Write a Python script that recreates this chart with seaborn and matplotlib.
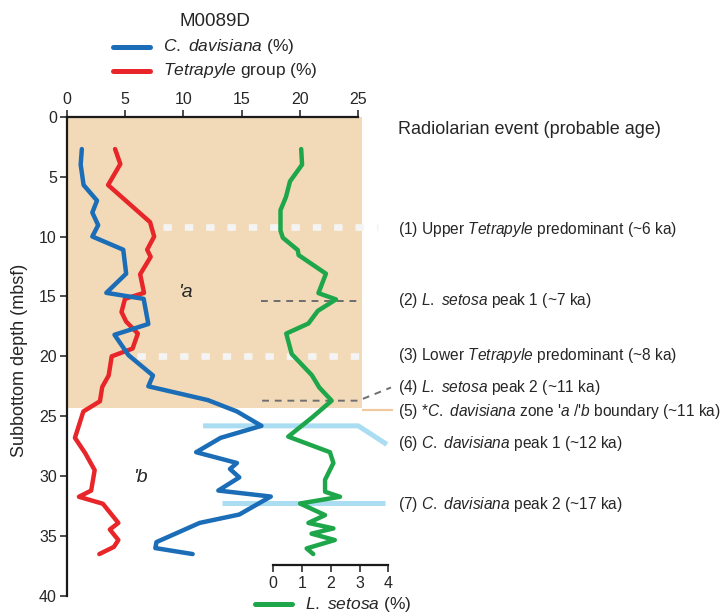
import matplotlib
matplotlib.use("Agg")
import matplotlib.pyplot as plt
from matplotlib.lines import Line2D
from matplotlib.patches import Rectangle
import pandas as pd
import seaborn as sns

# ---- data: core M0089D radiolarian counts ----
davis_depth = [2.7, 4.0, 5.7, 7.0, 8.0, 9.05, 10.0, 11.1, 13.1, 14.7, 15.2, 17.3, 18.2,
               19.9, 21.6, 22.5, 23.65, 24.6, 25.8, 26.8, 28.0, 28.9, 29.4, 30.1, 31.2,
               31.7, 33.2, 33.9, 35.5, 36.0, 36.5]
davis_pct = [1.3, 1.2, 1.45, 2.6, 2.2, 2.7, 2.2, 4.85, 5.1, 3.4, 6.6, 7.0, 4.1,
             5.3, 7.4, 7.0, 12.1, 14.6, 16.7, 13.2, 11.1, 14.6, 14.0, 14.8, 13.0,
             17.5, 14.8, 11.4, 7.7, 7.6, 10.8]

tetra_depth = [2.7, 3.95, 5.7, 8.8, 10.0, 11.1, 11.7, 13.15, 14.7, 15.2, 16.3, 17.1, 18.1,
               19.35, 20.0, 21.6, 22.55, 23.75, 24.6, 26.8, 28.1, 29.5, 31.2, 31.72, 32.3,
               33.9, 34.45, 35.33, 35.9, 36.5]
tetra_pct = [4.15, 4.6, 3.55, 7.15, 7.5, 6.9, 7.2, 6.3, 6.63, 5.0, 4.7, 5.1, 6.1,
             5.65, 3.86, 3.6, 3.05, 2.85, 1.43, 0.71, 1.6, 2.4, 2.1, 1.05, 3.1,
             4.43, 3.7, 4.43, 4.05, 2.8]

setosa_depth = [2.7, 4.0, 5.4, 6.7, 7.8, 9.5, 10.1, 11.13, 11.55, 13.1, 14.72, 15.25, 16.2,
                17.26, 18.1, 19.8, 21.57, 22.6, 23.7, 25.1, 26.7, 28.0, 28.9, 30.3, 31.3,
                31.72, 32.28, 33.25, 33.9, 34.36, 34.8, 35.33, 36.03, 36.5]
setosa_pct = [0.97, 1.0, 0.58, 0.44, 0.25, 0.25, 0.33, 0.85, 0.88, 1.83, 1.57, 2.18, 1.55,
              1.22, 0.45, 0.64, 1.34, 1.6, 2.03, 1.35, 0.52, 1.97, 2.09, 1.8, 1.8,
              2.32, 0.93, 1.8, 1.22, 2.09, 1.33, 2.14, 1.16, 1.39]

main_ticks = [0, 5, 10, 15, 20, 25]
depth_ticks = [0, 5, 10, 15, 20, 25, 30, 35, 40]
setosa_ticks = [0, 1, 2, 3, 4]

zone_a_bottom = 24.3

event_labels = [
    (9.4, r"(1) Upper $\mathit{Tetrapyle}$ predominant (~6 ka)"),
    (15.36, r"(2) $\mathit{L.}$ $\mathit{setosa}$ peak 1 (~7 ka)"),
    (19.95, r"(3) Lower $\mathit{Tetrapyle}$ predominant (~8 ka)"),
    (22.6, r"(4) $\mathit{L.}$ $\mathit{setosa}$ peak 2 (~11 ka)"),
    (24.6, r"(5) *$\mathit{C.}$ $\mathit{davisiana}$ zone '$\mathit{a}$ /'$\mathit{b}$ boundary (~11 ka)"),
    (27.3, r"(6) $\mathit{C.}$ $\mathit{davisiana}$ peak 1 (~12 ka)"),
    (32.4, r"(7) $\mathit{C.}$ $\mathit{davisiana}$ peak 2 (~17 ka)"),
]

# ---- style ----
sns.set_style("ticks")
plt.rcParams["font.family"] = ["Liberation Sans", "DejaVu Sans"]
plt.rcParams["mathtext.fontset"] = "custom"
plt.rcParams["mathtext.rm"] = "Liberation Sans"
plt.rcParams["mathtext.it"] = "Liberation Sans:italic"
plt.rcParams["axes.edgecolor"] = "#1a1a1a"

BLUE = "#1a6db6"
RED = "#e8262a"
GREEN = "#1ea64a"
TAN = "#f2dab8"
LIGHTBLUE = "#aadcf2"
GRAY = "#6e6e6e"
DOTWHITE = "#f4f4f4"

fig = plt.figure(figsize=(7.2, 6.13), dpi=100)
ax = fig.add_axes([0.0926, 0.02773, 0.405, 0.7819])
ax.set_facecolor("none")

df_d = pd.DataFrame({"depth": davis_depth, "pct": davis_pct})
df_t = pd.DataFrame({"depth": tetra_depth, "pct": tetra_pct})
df_s = pd.DataFrame({"depth": setosa_depth, "pct": setosa_pct})

# zone 'a shading
ax.add_patch(Rectangle((0, 0), 25.3, zone_a_bottom, facecolor=TAN, edgecolor="none",
                       zorder=0, clip_on=False))

# event marker lines
ev_kw = dict(clip_on=False, solid_capstyle="butt")
ax.plot([8.26, 26.7], [9.2, 9.2], color=DOTWHITE, lw=4.8, dashes=(1.25, 1.95),
        dash_capstyle="butt", zorder=1, clip_on=False)
ax.plot([6.0, 25.3], [19.95, 19.95], color=DOTWHITE, lw=4.8, dashes=(1.25, 1.95),
        dash_capstyle="butt", zorder=1, clip_on=False)
ax.plot([16.65, 24.85], [15.4, 15.4], color=GRAY, lw=1.4, dashes=(3.5, 3), zorder=1,
        clip_on=False)
ax.plot([16.76, 25.0, 27.8], [23.7, 23.7, 22.6], color=GRAY, lw=1.4, dashes=(3.5, 3),
        zorder=1, clip_on=False)
ax.plot([25.3, 27.95], [24.5, 24.5], color="#f0c9a0", lw=1.6, zorder=1, **ev_kw)
ax.plot([11.7, 25.0, 27.45], [25.8, 25.8, 27.35], color=LIGHTBLUE, lw=3.6, zorder=1, **ev_kw)
ax.plot([13.3, 27.3], [32.2, 32.2], color=LIGHTBLUE, lw=3.6, zorder=1, **ev_kw)

sns.lineplot(data=df_t, x="pct", y="depth", sort=False, estimator=None, color=RED,
             lw=3.2, ax=ax, zorder=3)
sns.lineplot(data=df_d, x="pct", y="depth", sort=False, estimator=None, color=BLUE,
             lw=3.2, ax=ax, zorder=3)

ax.set_xlim(0, 25)
ax.set_ylim(40, 0)
ax.xaxis.tick_top()
ax.set_xticks(main_ticks)
ax.set_yticks(depth_ticks)
ax.set_xlabel("")
ax.set_ylabel("Subbottom depth (mbsf)", fontsize=13)
ax.yaxis.set_label_coords(-0.133, 0.492)
for s in ("right", "bottom"):
    ax.spines[s].set_visible(False)
for s in ("left", "top"):
    ax.spines[s].set_linewidth(1.6)
ax.tick_params(axis="both", labelsize=11.5, width=1.1, length=5, direction="out",
               color="#1a1a1a", pad=2)

# zone letters
ax.text(10.2, 14.65, "'a", fontsize=14, style="italic", ha="center", va="center")
ax.text(6.35, 30.1, "'b", fontsize=14, style="italic", ha="center", va="center")

# event annotations
ax.text(28.4, 1.1, "Radiolarian event (probable age)", fontsize=13, ha="left",
        va="center", clip_on=False)
for y, txt in event_labels:
    ax.text(28.4, y, txt, fontsize=11.2, ha="left", va="center", clip_on=False)

# L. setosa on its own scale
ax2 = fig.add_axes([0.3796, 0.02773, 0.1597, 0.7819])
ax2.patch.set_visible(False)
sns.lineplot(data=df_s, x="pct", y="depth", sort=False, estimator=None, color=GREEN,
             lw=3.2, ax=ax2, zorder=3)
ax2.set_xlim(0, 4)
ax2.set_ylim(40, 0)
ax2.set_xticks(setosa_ticks)
ax2.set_yticks([])
ax2.set_xlabel("")
ax2.set_ylabel("")
for s in ("left", "right", "top"):
    ax2.spines[s].set_visible(False)
ax2.spines["bottom"].set_position(("data", 37.4))
ax2.spines["bottom"].set_linewidth(1.6)
ax2.tick_params(axis="x", labelsize=11.5, width=1.1, length=5, direction="out",
                color="#1a1a1a", pad=3)

# title and legend keys
W, H = 720.0, 613.0
fig.text(215 / W, 1 - 22 / H, "M0089D", fontsize=13.5, ha="center", va="center")
legend_rows = [
    (47, BLUE, r"$\mathit{C.}$ $\mathit{davisiana}$ (%)", 113, 163),
    (71, RED, r"$\mathit{Tetrapyle}$ group (%)", 113, 163),
    (604, GREEN, r"$\mathit{L.}$ $\mathit{setosa}$ (%)", 255, 305),
]
for py, col, lab, x0, xt in legend_rows:
    fig.add_artist(Line2D([x0 / W, (x0 + 37) / W], [1 - py / H, 1 - py / H],
                          transform=fig.transFigure, color=col, lw=3.6,
                          solid_capstyle="round"))
    fig.text(xt / W, 1 - py / H, lab, fontsize=12.5, ha="left", va="center")

fig.savefig("out.png", dpi=100)
